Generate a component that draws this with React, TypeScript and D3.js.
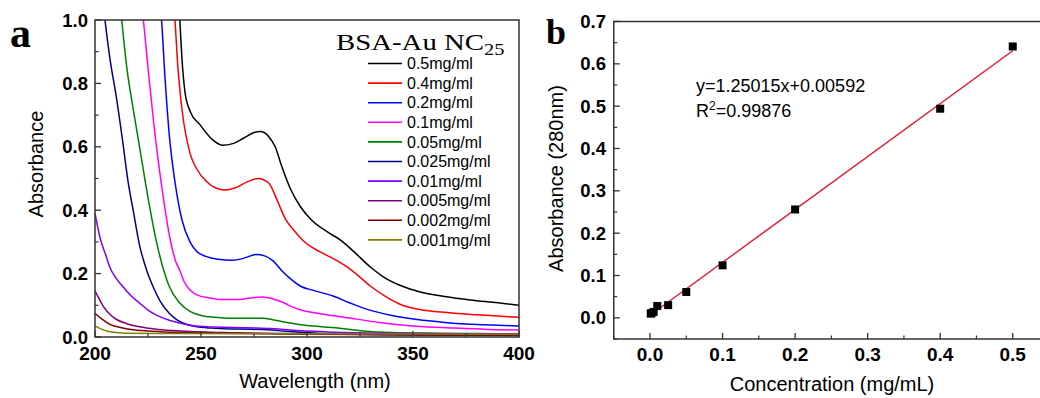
import React from "react";
import * as d3 from "d3";

// ---------- Panel a data ----------
const wavelengthTicks = [200, 250, 300, 350, 400];
const wavelengthMinor = [225, 275, 325, 375];
const absTicksA = [0, 0.2, 0.4, 0.6, 0.8, 1.0];
const absMinorA = [0.1, 0.3, 0.5, 0.7, 0.9];

const seriesLabels = [
  "0.5mg/ml", "0.4mg/ml", "0.2mg/ml", "0.1mg/ml", "0.05mg/ml",
  "0.025mg/ml", "0.01mg/ml", "0.005mg/ml", "0.002mg/ml", "0.001mg/ml",
];
const seriesColors = [
  "#000000", "#ff0000", "#0000ff", "#ff00ff", "#008000",
  "#000080", "#8000ff", "#800080", "#800000", "#808000",
];

const s05: [number, number][] = [[239,1.1],[240,1.0],[241,0.88],[242.5,0.77],[245,0.71],[249.5,0.67],[255,0.625],[260,0.605],[265,0.61],[270,0.627],[275,0.645],[278,0.648],[282,0.632],[285,0.6],[288,0.54],[292,0.47],[297,0.41],[302,0.37],[310,0.33],[316,0.305],[322,0.27],[330,0.22],[336,0.19],[345,0.16],[353,0.143],[365,0.128],[377,0.117],[390,0.108],[400,0.1]];
const s04: [number, number][] = [[236,1.1],[237.7,1.0],[239,0.86],[241,0.72],[244.8,0.58],[248,0.53],[252.7,0.49],[257,0.47],[261,0.464],[266,0.47],[272,0.49],[277,0.5],[282,0.485],[286,0.43],[290,0.37],[294,0.335],[298,0.305],[303,0.28],[308,0.262],[313,0.245],[318,0.225],[323,0.2],[330,0.16],[337,0.128],[345,0.1],[353,0.087],[366,0.077],[380,0.07],[390,0.066],[400,0.062]];
const s02: [number, number][] = [[230,1.1],[231.4,1.0],[233,0.82],[235,0.64],[237.7,0.49],[241,0.37],[244.8,0.3],[248,0.27],[252,0.255],[258,0.245],[265,0.242],[270,0.248],[276,0.26],[280,0.256],[284,0.24],[288,0.21],[292,0.185],[297,0.16],[303,0.147],[312,0.13],[320,0.108],[328,0.088],[340,0.068],[352,0.055],[365,0.046],[375,0.041],[390,0.037],[400,0.035]];
const s01: [number, number][] = [[221,1.1],[222.8,1.0],[225,0.85],[229,0.6],[232,0.45],[235.4,0.31],[238,0.24],[240,0.21],[242,0.175],[244.8,0.148],[248,0.133],[254,0.123],[260,0.118],[268,0.118],[274,0.124],[279,0.126],[284,0.12],[289,0.108],[293,0.095],[297,0.085],[305,0.075],[320,0.06],[335,0.045],[350,0.035],[370,0.028],[385,0.024],[400,0.022]];
const s005: [number, number][] = [[211,1.1],[212.6,1.0],[215,0.85],[218,0.72],[221,0.6],[225,0.44],[229,0.3],[232,0.22],[235,0.16],[240,0.107],[245,0.08],[250,0.068],[257,0.062],[264,0.059],[272,0.059],[279,0.059],[285,0.053],[292,0.044],[300,0.036],[312,0.03],[325,0.02],[340,0.014],[360,0.012],[380,0.011],[400,0.01]];
const s0025: [number, number][] = [[203,1.1],[204.7,1.0],[207,0.88],[210,0.76],[213,0.62],[215.6,0.49],[218,0.4],[221,0.29],[224.4,0.21],[228,0.15],[231,0.11],[235,0.075],[238.5,0.055],[243,0.04],[248,0.032],[255,0.028],[268,0.025],[281,0.023],[290,0.018],[305,0.012],[330,0.008],[360,0.006],[400,0.005]];
const s001: [number, number][] = [[200,0.39],[202.5,0.31],[205,0.26],[207,0.22],[210,0.185],[213,0.16],[217,0.13],[221,0.107],[225,0.085],[229,0.069],[235,0.053],[240,0.044],[246,0.036],[253,0.032],[265,0.03],[276,0.028],[285,0.026],[292,0.022],[310,0.016],[340,0.012],[370,0.01],[400,0.009]];
const s0005: [number, number][] = [[200,0.145],[202,0.12],[204,0.096],[207,0.072],[210,0.056],[215,0.042],[221,0.032],[230,0.024],[240,0.019],[260,0.014],[290,0.011],[330,0.008],[400,0.006]];
const s0002: [number, number][] = [[200,0.075],[203,0.058],[207,0.04],[212,0.03],[217,0.024],[225,0.019],[237,0.015],[260,0.012],[300,0.009],[350,0.007],[400,0.006]];
const s0001: [number, number][] = [[200,0.035],[203,0.025],[206,0.018],[210,0.014],[215,0.012],[240,0.011],[300,0.01],[400,0.009]];

const spectra = [s05, s04, s02, s01, s005, s0025, s001, s0005, s0002, s0001];

// ---------- Panel b data ----------
const concTicks = [0, 0.1, 0.2, 0.3, 0.4, 0.5];
const concMinor = [-0.05, 0.05, 0.15, 0.25, 0.35, 0.45];
const absTicksB = [0, 0.1, 0.2, 0.3, 0.4, 0.5, 0.6, 0.7];
const absMinorB = [-0.05, 0.05, 0.15, 0.25, 0.35, 0.45, 0.55, 0.65];
const calibConc = [0.001, 0.002, 0.005, 0.01, 0.025, 0.05, 0.1, 0.2, 0.4, 0.5];
const calibAbs = [0.010, 0.011, 0.014, 0.028, 0.030, 0.061, 0.124, 0.256, 0.494, 0.641];
const fitSlope = 1.25015;
const fitIntercept = 0.00592;
const fitRange = [0, 0.5];

const SANS = "'Liberation Sans', Arial, Helvetica, sans-serif";
const SERIF = "'Liberation Serif', 'Times New Roman', serif";
const AXIS = "#333";

export default function App() {
  // Panel a scales
  const xA = d3.scaleLinear().domain([200, 400]).range([95, 519]);
  const yA = d3.scaleLinear().domain([0, 1]).range([337, 20]);
  const lineA = d3
    .line<[number, number]>()
    .x((d) => xA(d[0]))
    .y((d) => yA(d[1]))
    .curve(d3.curveMonotoneX);

  // Panel b scales
  const xB = d3.scaleLinear().domain([-0.05, 0.55]).range([613.75, 1049]);
  const yB = d3.scaleLinear().domain([-0.05, 0.7]).range([339, 21.5]);

  const legendY0 = 63.5;
  const legendDy = 19.6;

  return (
    <svg
      width={1040}
      height={398}
      style={{ position: "absolute", left: 0, top: 0, background: "#fff" }}
    >
      <defs>
        <clipPath id="clipA">
          <rect x={xA(200)} y={yA(1)} width={xA(400) - xA(200)} height={yA(0) - yA(1)} />
        </clipPath>
      </defs>

      {/* ---------------- Panel a ---------------- */}
      <text x={10} y={47} fontFamily={SERIF} fontWeight="bold" fontSize={42}>a</text>

      <g clipPath="url(#clipA)">
        {spectra.map((s, i) => (
          <path key={i} d={lineA(s) || ""} fill="none" stroke={seriesColors[i]} strokeWidth={1.5} />
        ))}
      </g>

      {/* frame */}
      <rect x={xA(200)} y={yA(1)} width={xA(400) - xA(200)} height={yA(0) - yA(1)} fill="none" stroke={AXIS} strokeWidth={1.5} />

      {/* x ticks */}
      {wavelengthTicks.map((t) => (
        <g key={"xa" + t}>
          <line x1={xA(t)} x2={xA(t)} y1={yA(0)} y2={yA(0) - 6} stroke={AXIS} strokeWidth={1.3} />
          <text x={xA(t)} y={360} textAnchor="middle" fontFamily={SANS} fontWeight="bold" fontSize={19}>{t}</text>
        </g>
      ))}
      {wavelengthMinor.map((t) => (
        <line key={"xam" + t} x1={xA(t)} x2={xA(t)} y1={yA(0)} y2={yA(0) - 3.5} stroke={AXIS} strokeWidth={1.2} />
      ))}
      {/* y ticks */}
      {absTicksA.map((t) => (
        <g key={"ya" + t}>
          <line x1={xA(200)} x2={xA(200) + 6} y1={yA(t)} y2={yA(t)} stroke={AXIS} strokeWidth={1.3} />
          <text x={88} y={yA(t)} dy="0.36em" textAnchor="end" fontFamily={SANS} fontWeight="bold" fontSize={18.5}>{t.toFixed(1)}</text>
        </g>
      ))}
      {absMinorA.map((t) => (
        <line key={"yam" + t} x1={xA(200)} x2={xA(200) + 3.5} y1={yA(t)} y2={yA(t)} stroke={AXIS} strokeWidth={1.2} />
      ))}

      <text x={315} y={388} textAnchor="middle" fontFamily={SANS} fontSize={20}>Wavelength (nm)</text>
      <text transform="translate(43,164) rotate(-90)" textAnchor="middle" fontFamily={SANS} fontSize={20}>Absorbance</text>

      {/* legend */}
      <g transform="translate(336,50) scale(1.2,1)">
        <text x={0} y={0} fontFamily={SERIF} fontSize={24}>
          BSA-Au NC<tspan fontSize={17} dy={5}>25</tspan>
        </text>
      </g>
      {seriesLabels.map((lab, i) => (
        <g key={"lg" + i}>
          <line x1={368} x2={402} y1={legendY0 + i * legendDy} y2={legendY0 + i * legendDy} stroke={seriesColors[i]} strokeWidth={1.6} />
          <text x={407} y={legendY0 + i * legendDy} dy="0.36em" fontFamily={SANS} fontSize={16}>{lab}</text>
        </g>
      ))}

      {/* ---------------- Panel b ---------------- */}
      <text x={546} y={44} fontFamily={SERIF} fontWeight="bold" fontSize={36}>b</text>

      {/* frame (right edge beyond view) */}
      <rect x={xB(-0.05)} y={yB(0.7)} width={xB(0.55) - xB(-0.05)} height={yB(-0.05) - yB(0.7)} fill="none" stroke={AXIS} strokeWidth={1.5} />

      {concTicks.map((t) => (
        <g key={"xb" + t}>
          <line x1={xB(t)} x2={xB(t)} y1={yB(-0.05)} y2={yB(-0.05) - 6} stroke={AXIS} strokeWidth={1.3} />
          <text x={xB(t)} y={361} textAnchor="middle" fontFamily={SANS} fontWeight="bold" fontSize={19}>{t.toFixed(1)}</text>
        </g>
      ))}
      {concMinor.map((t) => (
        <line key={"xbm" + t} x1={xB(t)} x2={xB(t)} y1={yB(-0.05)} y2={yB(-0.05) - 3.5} stroke={AXIS} strokeWidth={1.2} />
      ))}
      {absTicksB.map((t) => (
        <g key={"yb" + t}>
          <line x1={xB(-0.05)} x2={xB(-0.05) + 6} y1={yB(t)} y2={yB(t)} stroke={AXIS} strokeWidth={1.3} />
          <text x={606} y={yB(t)} dy="0.36em" textAnchor="end" fontFamily={SANS} fontWeight="bold" fontSize={18.5}>{t.toFixed(1)}</text>
        </g>
      ))}
      {absMinorB.map((t) => (
        <line key={"ybm" + t} x1={xB(-0.05)} x2={xB(-0.05) + 3.5} y1={yB(t)} y2={yB(t)} stroke={AXIS} strokeWidth={1.2} />
      ))}

      {/* fit line */}
      <line
        x1={xB(fitRange[0])}
        y1={yB(fitSlope * fitRange[0] + fitIntercept)}
        x2={xB(fitRange[1])}
        y2={yB(fitSlope * fitRange[1] + fitIntercept)}
        stroke="#e8102a"
        strokeWidth={1.3}
      />
      {/* points */}
      {calibConc.map((c, i) => (
        <rect key={"pt" + i} x={xB(c) - 4} y={yB(calibAbs[i]) - 4} width={8} height={8} fill="#000" />
      ))}

      <text x={696} y={92} fontFamily={SANS} fontSize={18}>y=1.25015x+0.00592</text>
      <text x={696} y={117} fontFamily={SANS} fontSize={18}>
        R<tspan fontSize={12} dy={-7}>2</tspan><tspan dy={7}>=0.99876</tspan>
      </text>

      <text x={832} y={391} textAnchor="middle" fontFamily={SANS} fontSize={20}>Concentration (mg/mL)</text>
      <text transform="translate(563,178.5) rotate(-90)" textAnchor="middle" fontFamily={SANS} fontSize={20}>Absorbance (280nm)</text>
    </svg>
  );
}
